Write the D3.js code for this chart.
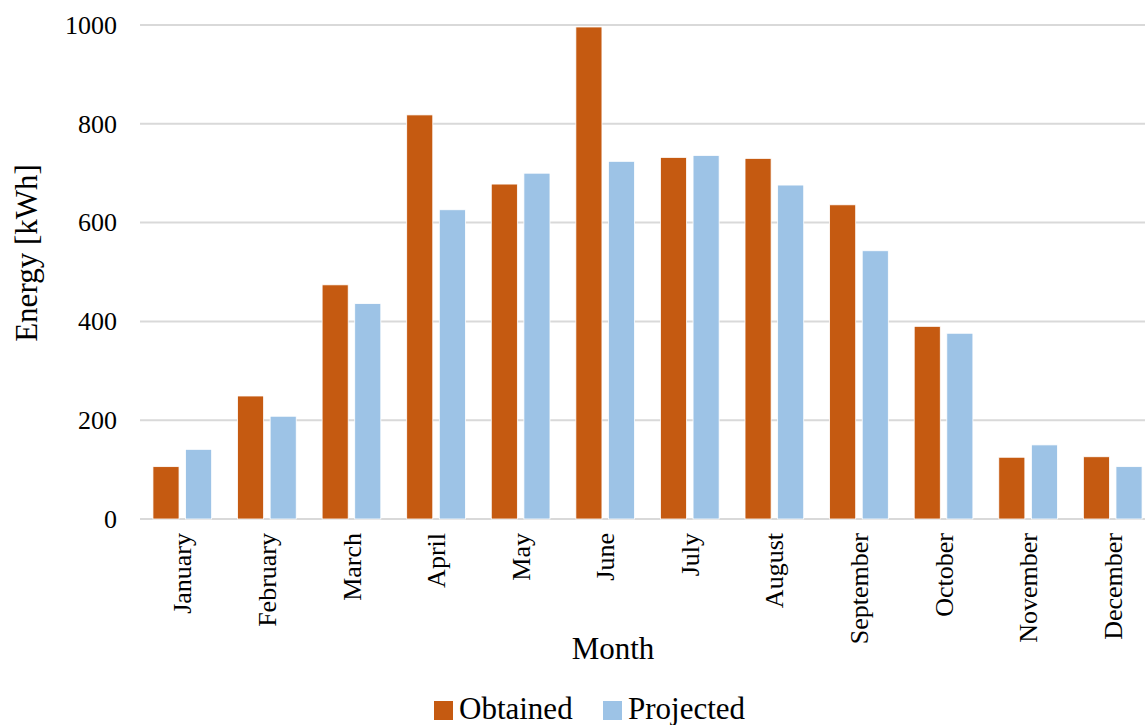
<!DOCTYPE html>
<html>
<head>
<meta charset="utf-8">
<script src="https://cdn.jsdelivr.net/npm/d3@7"></script>
<style>
  html, body { margin: 0; padding: 0; background: #fff; }
  svg { display: block; font-family: "Liberation Serif", "Times New Roman", serif; }
</style>
</head>
<body>
<svg id="chart" width="1145" height="725"></svg>
<script>
// Monthly energy, obtained vs projected (kWh)
const months = ["January", "February", "March", "April", "May", "June",
                "July", "August", "September", "October", "November", "December"];
const obtained  = [106, 249, 474, 818, 678, 996, 732, 730, 636, 390, 125, 126];
const projected = [141, 208, 436, 626, 700, 724, 736, 676, 543, 376, 150, 106];
const seriesNames = ["Obtained", "Projected"];
const yTicks = [0, 200, 400, 600, 800, 1000];

const colors = { Obtained: "#C55A11", Projected: "#9DC3E6" };

const svg = d3.select("#chart");
const plot = { left: 140, right: 1155, top: 25, bottom: 519 };

const x0 = d3.scaleBand().domain(months).range([plot.left, plot.right]).padding(0);
const x1 = d3.scaleBand().domain(seriesNames)
  .range([x0.bandwidth() * 0.153, x0.bandwidth() * 0.847])
  .paddingInner(0.2);
const y = d3.scaleLinear().domain([0, 1000]).range([plot.bottom, plot.top]);

const rows = months.map((m, i) => ({ month: m, Obtained: obtained[i], Projected: projected[i] }));

// gridlines
svg.append("g")
  .selectAll("line")
  .data(yTicks)
  .join("line")
  .attr("x1", plot.left).attr("x2", plot.right)
  .attr("y1", d => y(d)).attr("y2", d => y(d))
  .attr("stroke", "#D9D9D9").attr("stroke-width", 2);

// y axis labels
const yAxis = d3.axisLeft(y).tickValues(yTicks).tickFormat(d3.format("d"))
  .tickSize(0).tickPadding(23);
svg.append("g")
  .attr("transform", `translate(${plot.left},0)`)
  .call(yAxis)
  .call(g => g.select(".domain").remove())
  .call(g => g.selectAll("text")
    .attr("font-family", "Liberation Serif, Times New Roman, serif")
    .attr("font-size", 26).attr("fill", "#000"));

// bars
svg.append("g")
  .selectAll("g")
  .data(rows)
  .join("g")
  .attr("transform", d => `translate(${x0(d.month)},0)`)
  .selectAll("rect")
  .data(d => seriesNames.map(s => ({ key: s, value: d[s] })))
  .join("rect")
  .attr("x", d => x1(d.key))
  .attr("width", x1.bandwidth())
  .attr("y", d => y(d.value))
  .attr("height", d => y(0) - y(d.value))
  .attr("fill", d => colors[d.key])
  .attr("stroke", "#fff").attr("stroke-width", 0.8);

// x axis labels (rotated)
const xAxis = d3.axisBottom(x0).tickSize(0).tickPadding(0);
svg.append("g")
  .attr("transform", `translate(0,${plot.bottom})`)
  .call(xAxis)
  .call(g => g.select(".domain").remove())
  .call(g => g.selectAll("text")
    .attr("font-family", "Liberation Serif, Times New Roman, serif")
    .attr("font-size", 26).attr("fill", "#000")
    .attr("text-anchor", "end")
    .attr("transform", "rotate(-90)")
    .attr("x", -14).attr("y", 0).attr("dy", "0.35em"));

// axis titles
svg.append("text")
  .attr("x", 613).attr("y", 659)
  .attr("text-anchor", "middle")
  .attr("font-size", 31)
  .text("Month");

svg.append("text")
  .attr("transform", "translate(37,253) rotate(-90)")
  .attr("text-anchor", "middle")
  .attr("font-size", 31)
  .text("Energy [kWh]");

// legend
const legend = svg.append("g");
const legendItems = [
  { key: "Obtained", sx: 434, tx: 459 },
  { key: "Projected", sx: 603, tx: 628 }
];
legendItems.forEach(it => {
  legend.append("rect")
    .attr("x", it.sx).attr("y", 701).attr("width", 19).attr("height", 19)
    .attr("fill", colors[it.key]);
  legend.append("text")
    .attr("x", it.tx).attr("y", 719)
    .attr("font-size", 31)
    .text(it.key);
});
</script>
</body>
</html>
